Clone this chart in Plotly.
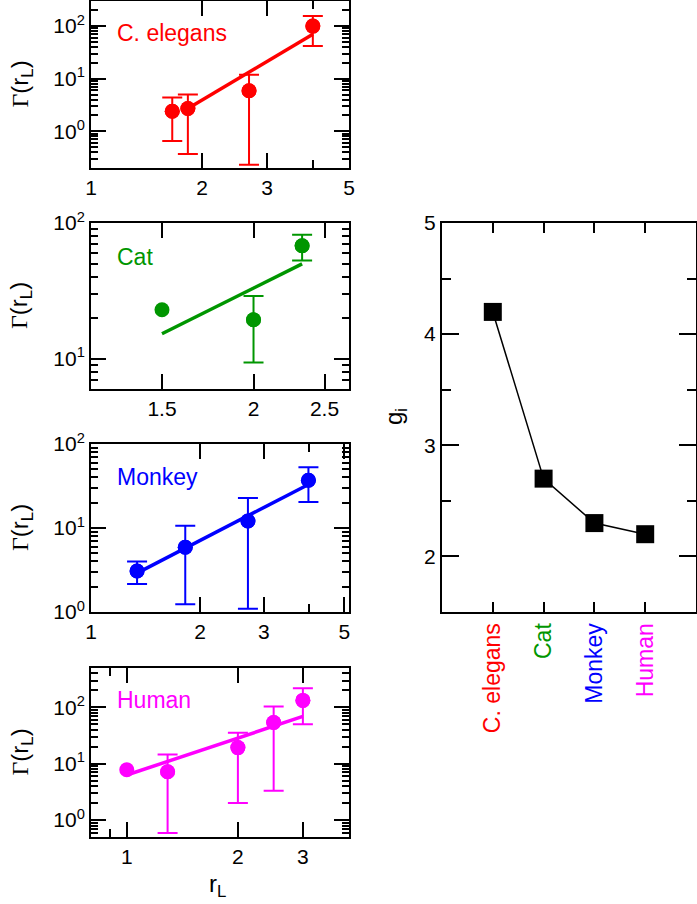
import math
import plotly.graph_objects as go

W, H = 697, 904

# ---------------- data ----------------
# C. elegans
ce_x = [1.66, 1.83, 2.68, 3.99]
ce_y = [2.4, 2.7, 5.9, 100]
ce_hi = [4.4, 5.0, 11.9, 156]
ce_lo = [0.65, 0.37, 0.23, 42]
ce_fit_x = [1.83, 3.99]
ce_fit_y = [2.7, 70]

# Cat
cat_x = [1.5, 2.0, 2.33]
cat_y = [23, 19.4, 68]
cat_hi = [None, 29, 82]
cat_lo = [None, 9.4, 53]
cat_fit_x = [1.5, 2.33]
cat_fit_y = [15.3, 50]

# Monkey
mk_x = [1.34, 1.82, 2.71, 3.98]
mk_y = [3.08, 5.9, 12.1, 37]
mk_hi = [4.0, 10.6, 22.7, 53]
mk_lo = [2.15, 1.24, 1.09, 20.4]
mk_fit_x = [1.34, 3.98]
mk_fit_y = [2.9, 33]

# Human
hu_x = [1.0, 1.29, 2.0, 2.5, 3.0]
hu_y = [7.8, 7.2, 19.3, 54, 133]
hu_hi = [None, 14.5, 35.5, 104, 218]
hu_lo = [None, 0.59, 2.0, 3.3, 50]
hu_fit_x = [1.0, 3.0]
hu_fit_y = [6.3, 69]

# exponents g_i
species = ["C. elegans", "Cat", "Monkey", "Human"]
g_vals = [4.2, 2.7, 2.3, 2.2]

colors = ["#ff0000", "#009600", "#0000ff", "#ff00ff"]

# ---------------- layout helpers ----------------
def px_x(a, b):
    return [a / W, b / W]

def px_y(top, bottom):
    return [1 - bottom / H, 1 - top / H]

FONT = "Liberation Sans, Arial, sans-serif"
TICKFONT = dict(family=FONT, size=21, color="black")

fig = go.Figure()

panels = [
    dict(x=ce_x, y=ce_y, hi=ce_hi, lo=ce_lo, fx=ce_fit_x, fy=ce_fit_y,
         dom_y=px_y(1, 168),
         xr=[1, 5], yr=[0.2, 300],
         xmaj=[1, 2, 3, 5], xlab=["1", "2", "3", "5"], xmin=[4],
         ymaj=[1, 10, 100],
         ymin=[0.2, 0.3, 0.4, 0.5, 0.6, 0.7, 0.8, 0.9] + list(range(2, 10)) + list(range(20, 100, 10)) + [200, 300],
         label_y=33),
    dict(x=cat_x, y=cat_y, hi=cat_hi, lo=cat_lo, fx=cat_fit_x, fy=cat_fit_y,
         dom_y=px_y(223, 389),
         xr=[1.2, 2.7], yr=[6, 100],
         xmaj=[1.5, 2, 2.5], xlab=["1.5", "2", "2.5"], xmin=[],
         ymaj=[10, 100],
         ymin=[6, 7, 8, 9] + list(range(20, 100, 10)),
         label_y=257),
    dict(x=mk_x, y=mk_y, hi=mk_hi, lo=mk_lo, fx=mk_fit_x, fy=mk_fit_y,
         dom_y=px_y(444, 612),
         xr=[1, 5.15], yr=[1, 100],
         xmaj=[1, 2, 3, 5], xlab=["1", "2", "3", "5"], xmin=[4],
         ymaj=[1, 10, 100],
         ymin=list(range(2, 10)) + list(range(20, 100, 10)),
         label_y=477),
    dict(x=hu_x, y=hu_y, hi=hu_hi, lo=hu_lo, fx=hu_fit_x, fy=hu_fit_y,
         dom_y=px_y(668, 837),
         xr=[0.8, 4], yr=[0.5, 500],
         xmaj=[1, 2, 3], xlab=["1", "2", "3"], xmin=[0.9],
         ymaj=[1, 10, 100],
         ymin=[0.5, 0.6, 0.7, 0.8, 0.9] + list(range(2, 10)) + list(range(20, 100, 10)) + [200, 300, 400, 500],
         label_y=700),
]

sup = {0.1: "10<sup>-1</sup>", 1: "10<sup>0</sup>", 10: "10<sup>1</sup>", 100: "10<sup>2</sup>"}

annotations = []
for i, (p, name, col) in enumerate(zip(panels, species, colors)):
    n = i + 1
    xa = "x" if n == 1 else f"x{n}"
    ya = "y" if n == 1 else f"y{n}"
    # fit line
    fig.add_trace(go.Scatter(x=p["fx"], y=p["fy"], mode="lines",
                             line=dict(color=col, width=3.5),
                             xaxis=xa, yaxis=ya, showlegend=False, hoverinfo="skip"))
    # error bars (only points that have them)
    ex, ey, eu, ed = [], [], [], []
    for xv, yv, h, l in zip(p["x"], p["y"], p["hi"], p["lo"]):
        if h is not None:
            ex.append(xv); ey.append(yv); eu.append(h - yv); ed.append(yv - l)
    fig.add_trace(go.Scatter(x=ex, y=ey, mode="markers",
                             marker=dict(size=15, color=col),
                             error_y=dict(type="data", symmetric=False, array=eu, arrayminus=ed,
                                          color=col, thickness=2, width=10),
                             xaxis=xa, yaxis=ya, showlegend=False))
    # all markers
    fig.add_trace(go.Scatter(x=p["x"], y=p["y"], mode="markers",
                             marker=dict(size=15, color=col),
                             xaxis=xa, yaxis=ya, showlegend=False))

    xkey = "xaxis" if n == 1 else f"xaxis{n}"
    ykey = "yaxis" if n == 1 else f"yaxis{n}"
    fig.update_layout({
        xkey: dict(type="log", domain=px_x(91, 349), anchor=ya, automargin=False,
                   range=[math.log10(p["xr"][0]), math.log10(p["xr"][1])],
                   tickmode="array", tickvals=p["xmaj"], ticktext=p["xlab"],
                   ticks="inside", ticklen=15, tickwidth=1.5, tickcolor="black",
                   minor=dict(tickmode="array", tickvals=p["xmin"], ticks="inside",
                              ticklen=8, tickwidth=1.5, tickcolor="black"),
                   showline=True, linecolor="black", linewidth=2, mirror="allticks",
                   showgrid=False, zeroline=False, tickfont=TICKFONT),
        ykey: dict(type="log", domain=p["dom_y"], anchor=xa, automargin=False,
                   range=[math.log10(p["yr"][0]), math.log10(p["yr"][1])],
                   tickmode="array", tickvals=p["ymaj"], ticktext=[sup[v] for v in p["ymaj"]],
                   ticks="inside", ticklen=15, tickwidth=1.5, tickcolor="black",
                   minor=dict(tickmode="array", tickvals=p["ymin"], ticks="inside",
                              ticklen=7, tickwidth=1.5, tickcolor="black"),
                   showline=True, linecolor="black", linewidth=2, mirror="allticks",
                   showgrid=False, zeroline=False, tickfont=TICKFONT),
    })
    # species label
    annotations.append(dict(x=115 / W, y=1 - p["label_y"] / H, xref="paper", yref="paper",
                            text=name, showarrow=False, xanchor="left", yanchor="middle",
                            font=dict(family=FONT, size=23, color=col)))
    # y title
    yc = (p["dom_y"][0] + p["dom_y"][1]) / 2
    annotations.append(dict(x=21 / W, y=yc, xref="paper", yref="paper",
                            text="<span style='font-family:Liberation Serif, Times New Roman, serif'>Γ</span>(r<sub>L</sub>)",
                            showarrow=False, textangle=-90, xanchor="center", yanchor="middle",
                            font=dict(family=FONT, size=24, color="black")))

# right panel
cat_pos = [1, 2, 3, 4]
fig.add_trace(go.Scatter(x=cat_pos, y=g_vals, mode="lines+markers",
                         line=dict(color="black", width=1.5),
                         marker=dict(symbol="square", size=18, color="black"),
                         xaxis="x5", yaxis="y5", showlegend=False))
fig.update_layout(
    xaxis5=dict(domain=px_x(442, 696), anchor="y5", range=[0, 5], automargin=False,
                tickmode="array", tickvals=cat_pos,
                ticktext=[f"<span style='color:{c}'>{s}</span>" for s, c in zip(species, colors)],
                tickangle=-90, ticks="inside", ticklen=10, tickwidth=1.5, tickcolor="black",
                showline=True, linecolor="black", linewidth=2, mirror="allticks",
                showgrid=False, zeroline=False,
                tickfont=dict(family=FONT, size=23, color="black")),
    yaxis5=dict(domain=px_y(223, 612), anchor="x5", range=[1.5, 5], automargin=False,
                tickmode="array", tickvals=[2, 3, 4, 5], ticktext=["2", "3", "4", "5"],
                ticks="inside", ticklen=17, tickwidth=1.5, tickcolor="black",
                minor=dict(tickmode="array", tickvals=[2.5, 3.5, 4.5], ticks="inside",
                           ticklen=9, tickwidth=1.5, tickcolor="black"),
                showline=True, linecolor="black", linewidth=2, mirror="allticks",
                showgrid=False, zeroline=False, tickfont=TICKFONT),
)

annotations.append(dict(x=218 / W, y=1 - 885 / H, xref="paper", yref="paper",
                        text="r<sub>L</sub>", showarrow=False, xanchor="center", yanchor="middle",
                        font=dict(family=FONT, size=24, color="black")))
annotations.append(dict(x=395 / W, y=1 - 417 / H, xref="paper", yref="paper",
                        text="g<sub>i</sub>", showarrow=False, textangle=-90,
                        xanchor="center", yanchor="middle",
                        font=dict(family=FONT, size=24, color="black")))

fig.update_layout(width=W, height=H, margin=dict(l=0, r=0, t=0, b=0, autoexpand=False),
                  paper_bgcolor="white", plot_bgcolor="white",
                  annotations=annotations, showlegend=False)

fig.write_html("out.html", config={"displayModeBar": False},
               post_script="document.body.style.margin='0';document.body.style.padding='0';"
                           "document.documentElement.style.overflow='hidden';")
